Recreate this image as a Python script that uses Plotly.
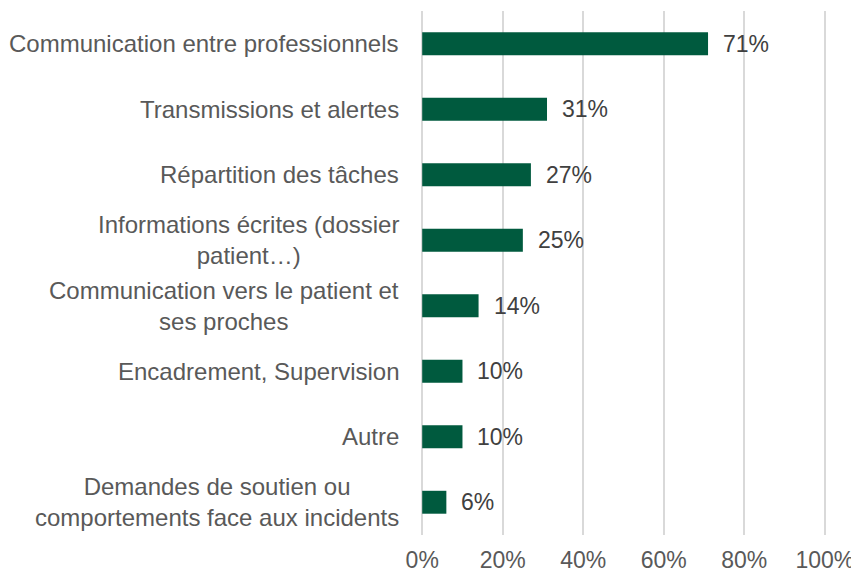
import plotly.graph_objects as go

categories = [
    "Communication entre professionnels",
    "Transmissions et alertes",
    "Répartition des tâches",
    "Informations écrites (dossier<br>patient…)",
    "Communication vers le patient et<br>ses proches",
    "Encadrement, Supervision",
    "Autre",
    "Demandes de soutien ou<br>comportements face aux incidents",
]
values = [71, 31, 27, 25, 14, 10, 10, 6]
x_tickvals = [0, 20, 40, 60, 80, 100]
x_ticktext = ["0%", "20%", "40%", "60%", "80%", "100%"]

FONT = "Liberation Sans, Arial, sans-serif"
fig = go.Figure()
fig.add_trace(go.Bar(
    x=values, y=categories, orientation="h",
    marker=dict(color="#005a3e", line=dict(width=0)),
    width=0.35, hoverinfo="skip",
))

annotations = []
for c, v in zip(categories, values):
    annotations.append(dict(
        x=0, y=c, xref="paper", yref="y", xanchor="right", yanchor="middle",
        text=c, showarrow=False, align="center", xshift=-20,
        font=dict(family=FONT, size=24, color="#595959"),
    ))
    annotations.append(dict(
        x=v, y=c, xref="x", yref="y", xanchor="left", yanchor="middle",
        text=f"{v}%", showarrow=False, xshift=13,
        font=dict(family=FONT, size=23, color="#404040"),
    ))

# the page body adds an 8px offset, so the figure is sized to fill the rest
fig.update_layout(
    width=851, height=565,
    margin=dict(l=413, r=33, t=3, b=38, autoexpand=False),
    plot_bgcolor="white", paper_bgcolor="white",
    showlegend=False,
    annotations=annotations,
    xaxis=dict(
        range=[-0.3, 100.3], tickvals=x_tickvals, ticktext=x_ticktext,
        showgrid=True, gridcolor="#d9d9d9", gridwidth=1.5,
        zeroline=False, showline=False, ticks="", automargin=False,
        ticklabelstandoff=9,
        tickfont=dict(family=FONT, size=23, color="#595959"),
    ),
    yaxis=dict(
        categoryorder="array", categoryarray=categories,
        autorange="reversed", showticklabels=False, automargin=False,
        showgrid=False, zeroline=False, showline=False, ticks="",
    ),
)

fig.write_html("out.html")
